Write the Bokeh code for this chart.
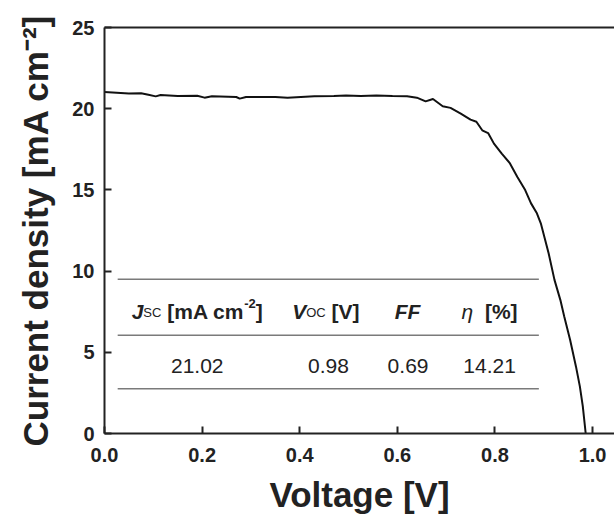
from bokeh.plotting import figure
from bokeh.models import LinearAxis, FixedTicker, PrintfTickFormatter
from bokeh.core.properties import value
from bokeh.embed import file_html
from bokeh.resources import INLINE

# ---- data ----
voltage = [0.00, 0.05, 0.075, 0.09, 0.105, 0.115, 0.15, 0.19, 0.205, 0.22,
           0.27, 0.277, 0.29, 0.35, 0.375, 0.43, 0.47, 0.495, 0.525, 0.557,
           0.59, 0.62, 0.64, 0.658, 0.673, 0.693, 0.709, 0.73, 0.75, 0.762,
           0.774, 0.786, 0.798, 0.814, 0.83, 0.846, 0.862, 0.874, 0.886, 0.894,
           0.902, 0.910, 0.922, 0.934, 0.942, 0.954, 0.966, 0.974, 0.980, 0.986]
current = [21.03, 20.93, 20.95, 20.86, 20.76, 20.84, 20.78, 20.80, 20.68, 20.76,
           20.72, 20.62, 20.72, 20.72, 20.68, 20.76, 20.78, 20.82, 20.78, 20.82,
           20.78, 20.76, 20.68, 20.45, 20.60, 20.15, 20.05, 19.70, 19.33, 19.20,
           18.67, 18.50, 17.85, 17.24, 16.67, 15.80, 14.99, 14.17, 13.56, 12.94,
           12.02, 11.10, 9.46, 8.23, 7.20, 5.77, 4.13, 2.90, 1.68, 0.00]

x_ticks = [0.0, 0.2, 0.4, 0.6, 0.8, 1.0]
y_ticks = [0, 5, 10, 15, 20, 25]

table_rule_y = [9.5, 6.05, 2.75]
table_rule_x = [0.027, 0.89]

header_centers = [0.190, 0.4535, 0.621, 0.789]
header_baseline = 7.51
# each header: list of (text, style, size_px, raise_px)
headers = [
    [("J", "bold italic", 21, 0), ("SC", "normal", 13, -1), (" [mA cm", "bold", 21, 0),
     ("-2", "bold", 13, 8), ("]", "bold", 21, 0)],
    [("V", "bold italic", 21, 0), ("OC", "normal", 13, -1), (" [V]", "bold", 21, 0)],
    [("FF", "bold italic", 21, 0)],
    [("\u03b7", "italic", 21, 0), ("  [%]", "bold", 21, 0)],
]

value_centers = [0.190, 0.459, 0.622, 0.789]
value_baseline = 4.13
values = ["21.02", "0.98", "0.69", "14.21"]

FONT = "Liberation Sans"

W_BOLD = {' ': 278, '[': 333, ']': 333, 'm': 889, 'A': 722, 'c': 556, '-': 333,
          'V': 667, 'F': 611, '%': 889, 'J': 556, 'S': 667, 'C': 722, 'O': 778}
W_REG = {' ': 278, '[': 278, ']': 278, 'm': 833, 'A': 667, 'c': 500, '-': 333,
         'V': 667, 'F': 611, '%': 889, 'J': 500, 'S': 667, 'C': 722, 'O': 778,
         '\u03b7': 556}


def text_width(s, style, size):
    table = W_BOLD if "bold" in style else W_REG
    return sum(table.get(ch, 556) for ch in s) * size / 1000.0


p = figure(width=614, height=516, x_range=(0, 1.045), y_range=(0, 25),
           output_backend="svg", toolbar_location=None,
           min_border_left=104, min_border_right=0, min_border_top=27,
           min_border_bottom=82, x_axis_type=None, y_axis_type=None)
p.outline_line_color = None
p.background_fill_color = "white"
p.border_fill_color = "white"

xaxis = LinearAxis(ticker=FixedTicker(ticks=x_ticks),
                   formatter=PrintfTickFormatter(format="%.1f"),
                   axis_label="Voltage [V]")
yaxis = LinearAxis(ticker=FixedTicker(ticks=y_ticks),
                   axis_label="Current density [mA cm\u207b\u00b2]")
topaxis = LinearAxis(ticker=FixedTicker(ticks=[]))

for ax in (xaxis, yaxis, topaxis):
    ax.axis_line_width = 2
    ax.axis_line_color = "#222222"
    ax.major_tick_line_width = 2
    ax.major_tick_line_color = "#222222"
    ax.minor_tick_line_color = None
    ax.major_label_text_font = FONT
    ax.major_label_text_font_style = "bold"
    ax.major_label_text_font_size = "20px"
    ax.major_label_text_color = "#222222"
    ax.axis_label_text_font = FONT
    ax.axis_label_text_font_style = "bold"
    ax.axis_label_text_font_size = "35px"
    ax.axis_label_text_color = "#222222"

xaxis.major_tick_in = 7
xaxis.major_tick_out = 0
xaxis.major_label_standoff = 14
xaxis.axis_label_standoff = 10
yaxis.major_tick_in = 7
yaxis.major_tick_out = 0
yaxis.major_label_standoff = 10
yaxis.axis_label_standoff = 14
topaxis.major_tick_in = 0
topaxis.major_tick_out = 0
topaxis.major_label_text_font_size = "0px"
topaxis.major_label_standoff = 0

p.add_layout(xaxis, "below")
p.add_layout(yaxis, "left")
p.add_layout(topaxis, "above")

# table rules
for yv in table_rule_y:
    p.line(x=table_rule_x, y=[yv, yv], line_color="#7a7a7a", line_width=1.5)

# header texts composed from pieces (leading spaces become pixel gaps)
for cx, pieces in zip(header_centers, headers):
    total = sum(text_width(t, st, sz) for t, st, sz, _ in pieces)
    off = -total / 2.0
    for t, st, sz, rz in pieces:
        lead = len(t) - len(t.lstrip(" "))
        off += text_width(" " * lead, st, sz)
        body = t.lstrip(" ")
        p.text(x=[cx], y=[header_baseline], text=[body], x_offset=off, y_offset=-rz,
               text_font=value(FONT), text_font_style=st, text_font_size=f"{sz}px",
               text_color="#222222", text_align="left", text_baseline="alphabetic")
        off += text_width(body, st, sz)

p.text(x=value_centers, y=[value_baseline] * len(values), text=values,
       text_font=value(FONT), text_font_style="normal", text_font_size="21px",
       text_color="#222222", text_align="center", text_baseline="alphabetic")

# J-V curve
p.line(x=voltage, y=current, line_color="#111111", line_width=2)

p.xgrid.visible = False
p.ygrid.visible = False

open("out.html", "w").write(file_html(p, INLINE))
